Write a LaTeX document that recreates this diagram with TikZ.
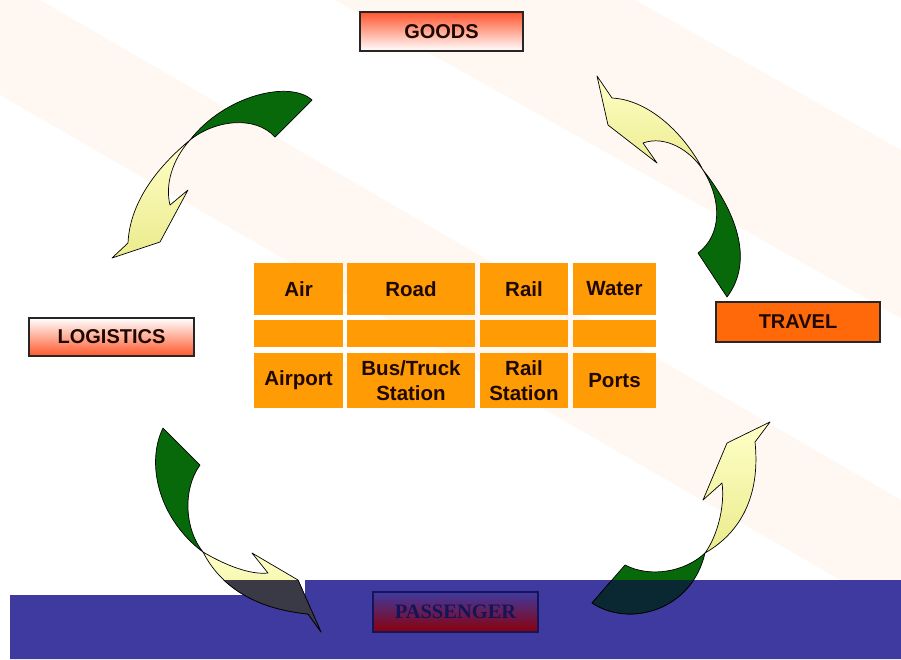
\documentclass[tikz,border=0pt]{standalone}
\usepackage{fontspec}
\setmainfont{Liberation Sans}
\newfontfamily\serifbold{Liberation Serif}
\definecolor{cream}{RGB}{255,248,242}
\definecolor{band}{RGB}{63,58,160}
\definecolor{cellor}{RGB}{255,155,5}
\definecolor{txt}{RGB}{30,8,0}
\definecolor{redor}{RGB}{255,85,45}
\definecolor{travelor}{RGB}{255,105,10}
\definecolor{agreen}{RGB}{8,105,10}
\definecolor{ayellow}{RGB}{235,235,140}
\definecolor{ayellowl}{RGB}{255,255,200}
\definecolor{dkgreen}{RGB}{10,40,50}
\definecolor{dkyellow}{RGB}{58,58,70}
\definecolor{navy}{RGB}{20,20,90}
\definecolor{dred}{RGB}{140,0,10}
\begin{document}
\begin{tikzpicture}[x=1pt,y=-1pt,
  lab/.style={draw=black!85, line width=1.2pt, inner sep=0pt,
    minimum width=164pt, minimum height=39pt, text=txt,
    font=\bfseries\fontsize{20}{22}\selectfont},
  cell/.style={fill=cellor, inner sep=0pt, text=txt, align=center,
    font=\bfseries\fontsize{20.5}{25}\selectfont},
  tail/.style={fill=agreen, draw=black, line width=0.7pt, line join=round},
  head/.style={top color=ayellowl, bottom color=ayellow, draw=black, line width=0.7pt, line join=round},
  dtail/.style={fill=dkgreen, draw=black, line width=0.7pt, line join=round},
  dhead/.style={fill=dkyellow, draw=black, line width=0.7pt, line join=round}]
\useasboundingbox (0,0) rectangle (901,659);
\fill[white] (0,0) rectangle (901,659);
% faint background stripes
\fill[cream] (40,0) -- (901,500) -- (901,615) -- (0,95) -- (0,0) -- cycle;
\fill[cream] (335,0) -- (901,318) -- (901,150) -- (635,0) -- cycle;
% blue band
\fill[band] (10,595) -- (305,595) -- (305,580) -- (901,580) -- (901,659) -- (10,659) -- cycle;
% arrow 1 (top-left)
\path[tail] (312,100) .. controls (290,80) and (225,95) .. (190,140)
  .. controls (215,120) and (255,115) .. (275,137) -- cycle;
\path[head] (190,140) .. controls (160,165) and (130,200) .. (128,243)
  -- (112,258) -- (160,242) -- (188,190) -- (170,205)
  .. controls (165,185) and (172,160) .. (190,140) -- cycle;
% arrow 2 (top-right)
\path[head] (597,76) -- (612,98) .. controls (650,100) and (685,135) .. (703,170)
  .. controls (690,150) and (665,135) .. (643,143) -- (657,163) -- (608,125) -- cycle;
\path[tail] (703,170) .. controls (735,210) and (755,260) .. (727,297)
  -- (698,253) .. controls (722,235) and (722,200) .. (703,170) -- cycle;
% arrow 3 (bottom-right)
\path[head] (770,422) -- (755,442) .. controls (760,490) and (745,530) .. (705,553)
  .. controls (718,535) and (725,505) .. (722,483) -- (703,500) -- (727,443) -- cycle;
\path[tail] (705,553) .. controls (685,572) and (650,578) .. (625,565)
  -- (592,603) .. controls (630,628) and (692,610) .. (705,553) -- cycle;
% arrow 4 (bottom-left)
\path[tail] (163,428) .. controls (145,465) and (160,520) .. (203,552)
  .. controls (185,530) and (182,490) .. (200,465) -- cycle;
\path[head] (203,552) .. controls (225,565) and (250,575) .. (268,573)
  -- (252,553) -- (298,580) -- (321,632) -- (308,614)
  .. controls (268,610) and (225,595) .. (203,552) -- cycle;
% darkened parts inside the band
\begin{scope}
  \clip (10,580) rectangle (901,659);
  \path[dtail] (705,553) .. controls (685,572) and (650,578) .. (625,565)
    -- (592,603) .. controls (630,628) and (692,610) .. (705,553) -- cycle;
  \path[dhead] (203,552) .. controls (225,565) and (250,575) .. (268,573)
    -- (252,553) -- (298,580) -- (321,632) -- (308,614)
    .. controls (268,610) and (225,595) .. (203,552) -- cycle;
\end{scope}
% labels
\node[lab, top color=redor, bottom color=white, minimum width=163pt] (goods) at (441.5,31.5) {GOODS};
\node[lab, top color=white, bottom color=redor!95!orange, minimum width=165pt, minimum height=38pt] (logistics) at (111.5,337) {LOGISTICS};
\node[lab, fill=travelor, minimum height=40pt] (travel) at (798,322) {TRAVEL};
\node[lab, draw=navy, top color=band, bottom color=dred, minimum width=165pt, minimum height=40pt, text=navy,
  font=\serifbold\bfseries\fontsize{20.5}{22}\selectfont] (passenger) at (455.5,612) {PASSENGER};
% table
\node[cell, minimum width=89pt, minimum height=52pt] (c11) at (298.5,289) {Air};
\node[cell, minimum width=128pt, minimum height=52pt] (c12) at (411,289) {Road};
\node[cell, minimum width=88pt, minimum height=52pt] (c13) at (524,289) {Rail};
\node[cell, minimum width=83pt, minimum height=52pt] (c14) at (614.5,289) {Water};
\node[cell, minimum width=89pt, minimum height=27pt] (c21) at (298.5,333.5) {};
\node[cell, minimum width=128pt, minimum height=27pt] (c22) at (411,333.5) {};
\node[cell, minimum width=88pt, minimum height=27pt] (c23) at (524,333.5) {};
\node[cell, minimum width=83pt, minimum height=27pt] (c24) at (614.5,333.5) {};
\node[cell, minimum width=89pt, minimum height=55pt] (c31) at (298.5,380.5) {Airport};
\node[cell, minimum width=128pt, minimum height=55pt] (c32) at (411,380.5) {Bus/Truck\\Station};
\node[cell, minimum width=88pt, minimum height=55pt] (c33) at (524,380.5) {Rail\\Station};
\node[cell, minimum width=83pt, minimum height=55pt] (c34) at (614.5,380.5) {Ports};
\end{tikzpicture}
\end{document}
